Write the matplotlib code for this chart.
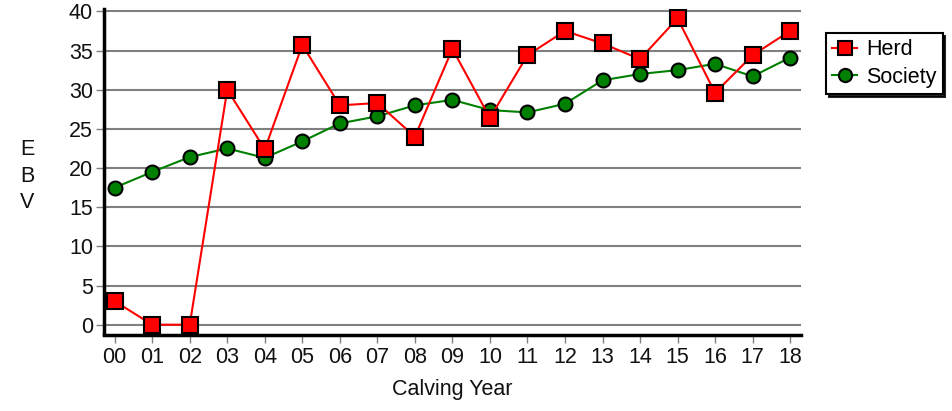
import matplotlib
matplotlib.use("Agg")
import matplotlib.pyplot as plt

years = ["00","01","02","03","04","05","06","07","08","09","10","11","12","13","14","15","16","17","18"]
herd = [3.0, 0.0, 0.0, 30.0, 22.4, 35.7, 28.0, 28.3, 24.0, 35.2, 26.4, 34.4, 37.5, 35.9, 33.9, 39.1, 29.6, 34.4, 37.5]
society = [17.5, 19.5, 21.4, 22.5, 21.3, 23.4, 25.7, 26.6, 28.0, 28.7, 27.4, 27.1, 28.2, 31.2, 32.0, 32.5, 33.3, 31.7, 34.1]
yticks = [0, 5, 10, 15, 20, 25, 30, 35, 40]

plt.rcParams['font.family'] = ['Liberation Sans', 'DejaVu Sans']
FS = 15.5

fig = plt.figure(figsize=(9.52, 4.11), dpi=100)
ax = fig.add_axes([104/952, 1-334.5/411, (801-104)/952, (334.5-9)/411])

x = list(range(len(years)))
ax.plot(x, herd, color='#ff0000', lw=1.5, marker='s', markersize=11.5,
        markerfacecolor='#ff0000', markeredgecolor='black', markeredgewidth=1.5,
        label='Herd', zorder=4)
ax.plot(x, society, color='#008000', lw=1.5, marker='o', markersize=10,
        markerfacecolor='#008000', markeredgecolor='black', markeredgewidth=1.5,
        label='Society', zorder=3)

ax.set_xlim(-0.285, 18.29)
ax.set_ylim(-1.25, 40.3)
ax.set_yticks(yticks)
ax.set_yticklabels([str(v) for v in yticks])
ax.set_xticks(x)
ax.set_xticklabels(years)
ax.grid(axis='y', color='#808080', lw=1.5)
ax.set_axisbelow(True)

for s in ['top', 'right']:
    ax.spines[s].set_visible(False)
for s in ['left', 'bottom']:
    ax.spines[s].set_linewidth(2.5)
    ax.spines[s].set_color('black')

ax.tick_params(axis='both', labelsize=FS, length=6, width=1, colors='#111111')
ax.tick_params(axis='both', color='#808080')
ax.tick_params(axis='y', pad=2)
ax.tick_params(axis='x', pad=3)

ax.set_xlabel('Calving Year', fontsize=FS, labelpad=8, color='#111111')
fig.text(27/952, 1-176/411, 'E\nB\nV', fontsize=FS, ha='center', va='center',
         linespacing=1.35, color='#111111')

leg = ax.legend(loc='upper left', bbox_to_anchor=(826/952, 1-33/411), bbox_transform=fig.transFigure,
                fontsize=FS, frameon=True, fancybox=False, shadow={'color': 'black', 'alpha': 0.85},
                borderpad=0.3, borderaxespad=0, handlelength=1.15, handletextpad=0.4,
                labelspacing=0.3)
leg.get_frame().set_edgecolor('black')
leg.get_frame().set_linewidth(1.5)
for h in leg.legend_handles:
    h.set_markersize(9.5)

fig.savefig('out.png', dpi=100)
